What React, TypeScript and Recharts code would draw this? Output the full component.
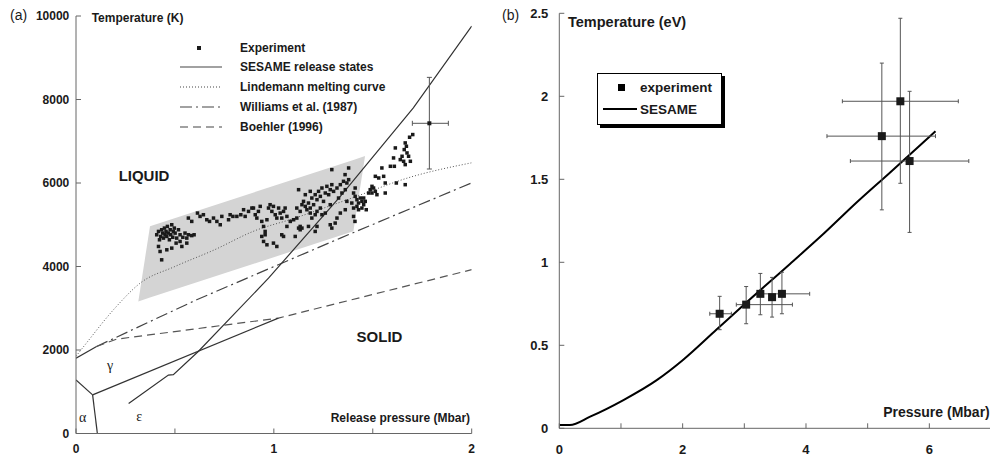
import React from 'react';
import {
  ComposedChart,
  Line,
  Area,
  Scatter,
  XAxis,
  YAxis,
  ErrorBar,
  ReferenceDot,
  Legend,
} from 'recharts';

// ---------- panel (a): iron phase diagram ----------
const aXTicks = [0, 0.5, 1, 1.5, 2];
const aYTicks = [0, 2000, 4000, 6000, 8000, 10000];

// SESAME release states
const sesameP = [0.266, 0.467, 0.492, 0.618, 0.973, 1.336, 1.705, 2.0];
const sesameT = [720, 1400, 1410, 1964, 3720, 5680, 7800, 9760];
const gammaEpsP = [0.084, 1.023];
const gammaEpsT = [924, 2764];
const alphaGammaP = [0, 0.084];
const alphaGammaT = [1284, 924];
const alphaEpsP = [0.084, 0.108];
const alphaEpsT = [924, 0];
const meltLowP = [0, 0.104];
const meltLowT = [1804, 2084];

// Lindemann melting curve
const lindemannP = [0, 0.05, 0.197, 0.324, 0.5, 0.7, 0.9, 1.1, 1.4, 1.69, 2.0];
const lindemannT = [1850, 2150, 3004, 3600, 4000, 4400, 4850, 5150, 5650, 6140, 6484];

// Williams et al. (1987)
const williamsP = [0.104, 0.61, 1.336, 2.0];
const williamsT = [2084, 3204, 4680, 6004];

// Boehler (1996)
const boehlerP = [0.104, 0.205, 1.023, 2.0];
const boehlerT = [2084, 2260, 2764, 3924];

// grey band
const shadeP = [0.315, 0.374, 1.402, 1.461];
const shadeLow = [3164, 3255, 4844, 6644];
const shadeHigh = [3164, 4964, 6553, 6644];

// experiment points [P (Mbar), T (K)]
const experimentA: [number, number][] = [
  [0.408, 4760], [0.417, 4840], [0.422, 4640], [0.428, 4720], [0.433, 4880], [0.438, 4800],
  [0.442, 4680], [0.447, 4920], [0.45, 4760], [0.455, 4840], [0.459, 4720], [0.462, 4960],
  [0.467, 4800], [0.472, 4640], [0.476, 4880], [0.479, 4760], [0.484, 5000], [0.489, 4700],
  [0.492, 4840], [0.497, 4920], [0.501, 4800], [0.506, 4560], [0.509, 4680], [0.518, 4880],
  [0.526, 4760], [0.535, 4480], [0.54, 4700], [0.551, 4800], [0.56, 4680], [0.568, 4760],
  [0.585, 4740], [0.597, 4760], [0.417, 4480], [0.425, 4360], [0.433, 4160], [0.459, 4400],
  [0.484, 4440], [0.526, 4600], [0.56, 4560],
  [0.568, 5160], [0.585, 5080], [0.614, 5280], [0.627, 5200], [0.644, 5240], [0.661, 5120],
  [0.675, 5080], [0.695, 5160], [0.712, 5080], [0.729, 5000], [0.737, 5200], [0.771, 5120],
  [0.779, 5240], [0.793, 5200], [0.813, 5200], [0.833, 5240], [0.847, 5360], [0.855, 5200],
  [0.872, 5320], [0.889, 5400],
  [0.897, 5400], [0.906, 5240], [0.914, 5160], [0.922, 5320], [0.931, 5440], [0.939, 5080],
  [0.948, 4960], [0.956, 4840], [0.965, 5120], [0.973, 5400], [0.981, 5480], [0.99, 5320],
  [0.998, 5440], [1.007, 5240], [1.015, 5160], [1.024, 5400], [1.032, 5280], [1.04, 5160],
  [1.049, 5320], [1.057, 5400], [1.066, 5200], [1.083, 5080], [1.1, 5120], [1.116, 5160],
  [1.125, 4920], [1.133, 4960], [1.142, 4920], [0.939, 4720], [0.948, 4600], [0.965, 4520],
  [0.956, 4760], [0.998, 4560], [1.015, 4480], [1.04, 4760], [1.049, 4720], [1.066, 4960],
  [1.108, 4720], [1.133, 4880], [1.175, 4960], [1.116, 5400], [1.133, 5320], [1.142, 5480],
  [1.15, 5560], [1.159, 5440], [1.167, 5360], [1.175, 5520], [1.184, 5400], [1.192, 5640],
  [1.201, 5480], [1.209, 5720], [1.218, 5600], [1.226, 5800], [1.235, 5680], [1.243, 5880],
  [1.251, 5560], [1.26, 5760], [1.268, 5920], [1.277, 5720], [1.285, 5840], [1.293, 5960],
  [1.302, 5800], [1.319, 5880], [1.327, 5640], [1.336, 5960], [1.344, 5760], [1.352, 6040],
  [1.361, 5840], [1.369, 6000], [1.369, 5560], [1.378, 6080], [1.293, 6320], [1.184, 5280],
  [1.192, 5160], [1.209, 5240], [1.218, 5320], [1.235, 5400], [1.243, 5240], [1.26, 5280],
  [1.285, 5480], [1.319, 5160], [1.336, 5280], [1.361, 5360], [1.285, 5000], [1.293, 4920],
  [1.31, 5040], [1.218, 4960], [1.209, 4840], [1.184, 5800], [1.125, 5840], [1.159, 5720],
  [1.403, 5760], [1.411, 5680], [1.42, 5600], [1.428, 5520], [1.437, 5640], [1.445, 5560],
  [1.454, 5640], [1.42, 5440], [1.428, 5360], [1.445, 5400], [1.454, 5480], [1.411, 5880],
  [1.394, 5520], [1.403, 5400], [1.462, 5560], [1.467, 5360], [1.487, 5840], [1.496, 5760],
  [1.504, 5880], [1.513, 5800], [1.521, 5720], [1.53, 6120], [1.513, 6160], [1.479, 5760],
  [1.496, 5920],
  [1.702, 7160], [1.686, 7096], [1.664, 6960], [1.67, 6880], [1.659, 6800], [1.673, 6720],
  [1.681, 6640], [1.648, 6640], [1.639, 6560], [1.656, 6520], [1.664, 6440], [1.69, 6520],
  [1.614, 6840], [1.605, 6600], [1.589, 6400], [1.609, 6400], [1.546, 6360], [1.555, 6160],
  [1.563, 6000], [1.619, 6000], [1.664, 5960], [1.563, 5760],
  [1.378, 6360], [1.36, 6200], [1.403, 5200], [1.41, 5080],
];

// single point with error bars
const errPointA = { x: 1.786, y: 7430, ex: [0.086, 0.096], ey: [1095, 1100] };

const legendALabels = [
  'Experiment',
  'SESAME release states',
  'Lindemann melting curve',
  'Williams et al. (1987)',
  'Boehler (1996)',
];

// ---------- panel (b): temperature vs pressure ----------
const bXTicks = [0, 1, 2, 3, 4, 5, 6];
const bYTicks = [0, 0.5, 1, 1.5, 2, 2.5];

const sesameBP = [0, 0.17, 0.5, 1.04, 1.58, 2.0, 2.55, 2.98, 3.74, 4.28, 4.82, 5.36, 6.1];
const sesameBT = [0.02, 0.02, 0.07, 0.17, 0.29, 0.41, 0.595, 0.74, 0.99, 1.17, 1.36, 1.54, 1.79];

const expBP = [2.6, 3.03, 3.26, 3.45, 3.61, 5.23, 5.53, 5.68];
const expBT = [0.69, 0.745, 0.81, 0.79, 0.81, 1.76, 1.97, 1.61];
const expBPErr = [[0.16, 0.19], [0.16, 0.75], [0, 0], [0, 0], [0.36, 0.45], [0.89, 0.87], [0.94, 0.94], [0.96, 0.96]];
const expBTErr = [[0.096, 0.105], [0.115, 0.109], [0.126, 0.123], [0.12, 0.119], [0.12, 0.13], [0.444, 0.44], [0.494, 0.5], [0.43, 0.42]];

const pairs = (xs: number[], ys: number[]) => xs.map((x, i) => ({ x, y: ys[i] }));

const sesameData = pairs(sesameP, sesameT);
const gammaEpsData = pairs(gammaEpsP, gammaEpsT);
const alphaGammaData = pairs(alphaGammaP, alphaGammaT);
const alphaEpsData = pairs(alphaEpsP, alphaEpsT);
const meltLowData = pairs(meltLowP, meltLowT);
const lindemannData = pairs(lindemannP, lindemannT);
const williamsData = pairs(williamsP, williamsT);
const boehlerData = pairs(boehlerP, boehlerT);
const shadeData = shadeP.map((x, i) => ({ x, y: [shadeLow[i], shadeHigh[i]] }));
const expAData = experimentA.map(([x, y]) => ({ x, y }));
const sesameBData = pairs(sesameBP, sesameBT);
const expBData = expBP.map((x, i) => ({ x, y: expBT[i], ex: expBPErr[i], ey: expBTErr[i] }));

const FONT = '"Liberation Sans", Arial, sans-serif';
const AXIS = '#666';
const INK = '#1a1a1a';

const smallSquare = (size: number) => (props: any) => {
  const { cx, cy } = props;
  if (cx == null || cy == null) return <g />;
  return <rect x={cx - size / 2} y={cy - size / 2} width={size} height={size} fill={INK} />;
};

const textLabel = (value: string, position: string, fontSize: number, extra: any = {}) => ({
  value,
  position,
  offset: 0,
  fontSize,
  fontWeight: 700,
  fill: INK,
  ...extra,
});

const LegendA = () => {
  const rowY = [10, 29, 49, 69, 89];
  const dashes = [null, undefined, '1 2', '12 4 2 4', '8 5'];
  return (
    <svg width={240} height={100} style={{ overflow: 'visible' }}>
      {legendALabels.map((label, i) => (
        <g key={label}>
          {i === 0 ? (
            <rect x={22} y={rowY[i] - 2} width={4} height={4} fill={INK} />
          ) : (
            <line
              x1={5}
              x2={47}
              y1={rowY[i]}
              y2={rowY[i]}
              stroke="#444"
              strokeWidth={1.2}
              strokeDasharray={dashes[i] || undefined}
            />
          )}
          <text x={65} y={rowY[i] + 4} fontSize={12} fontWeight={700} fill={INK} fontFamily={FONT}>
            {label}
          </text>
        </g>
      ))}
    </svg>
  );
};

const LegendB = () => (
  <div
    style={{
      width: 125,
      height: 52,
      boxSizing: 'border-box',
      border: '1.5px solid #000',
      boxShadow: '3px 3px 0 #000',
      background: '#fff',
    }}
  >
    <svg width={122} height={49}>
      <rect x={20} y={10} width={7} height={7} fill="#000" />
      <text x={42} y={18} fontSize={13.5} fontWeight={700} fill={INK} fontFamily={FONT}>
        experiment
      </text>
      <line x1={5} x2={39} y1={35} y2={35} stroke="#000" strokeWidth={2} />
      <text x={42} y={40} fontSize={13.5} fontWeight={700} fill={INK} fontFamily={FONT}>
        SESAME
      </text>
    </svg>
  </div>
);

const PanelA = () => (
  <ComposedChart width={490} height={456} margin={{ top: 16, right: 18.3, bottom: 0, left: 0 }}>
    <XAxis
      type="number"
      dataKey="x"
      domain={[0, 2]}
      ticks={aXTicks}
      tickFormatter={(v: number) => (Number.isInteger(v) ? String(v) : '')}
      tickSize={-5}
      tickMargin={15.5}
      height={22.5}
      stroke={AXIS}
      tick={{ fill: INK, fontSize: 12, fontWeight: 700 }}
      allowDataOverflow
    />
    <YAxis
      type="number"
      domain={[0, 10000]}
      ticks={aYTicks}
      width={76}
      tickSize={-5}
      tickMargin={11.7}
      stroke={AXIS}
      tick={{ fill: INK, fontSize: 12, fontWeight: 700 }}
      allowDataOverflow
    />
    <Area
      data={shadeData}
      dataKey="y"
      type="linear"
      stroke="none"
      fill="#d4d4d4"
      fillOpacity={1}
      isAnimationActive={false}
    />
    <Line data={lindemannData} dataKey="y" type="monotone" stroke="#555" strokeWidth={1} strokeDasharray="1 2" dot={false} isAnimationActive={false} />
    <Line data={williamsData} dataKey="y" type="linear" stroke="#444" strokeWidth={1.2} strokeDasharray="12 4 2 4" dot={false} isAnimationActive={false} />
    <Line data={boehlerData} dataKey="y" type="linear" stroke="#555" strokeWidth={1.2} strokeDasharray="8 5" dot={false} isAnimationActive={false} />
    <Line data={sesameData} dataKey="y" type="linear" stroke="#333" strokeWidth={1.2} dot={false} isAnimationActive={false} />
    <Line data={gammaEpsData} dataKey="y" type="linear" stroke="#333" strokeWidth={1.2} dot={false} isAnimationActive={false} />
    <Line data={alphaGammaData} dataKey="y" type="linear" stroke="#333" strokeWidth={1.2} dot={false} isAnimationActive={false} />
    <Line data={alphaEpsData} dataKey="y" type="linear" stroke="#333" strokeWidth={1.2} dot={false} isAnimationActive={false} />
    <Line data={meltLowData} dataKey="y" type="linear" stroke="#333" strokeWidth={1.2} dot={false} isAnimationActive={false} />
    <Scatter data={expAData} dataKey="y" shape={smallSquare(3.5)} isAnimationActive={false} />
    <Scatter data={[errPointA]} dataKey="y" shape={smallSquare(4)} isAnimationActive={false}>
      <ErrorBar dataKey="ex" direction="x" width={2.5} stroke="#555" strokeWidth={1} />
      <ErrorBar dataKey="ey" direction="y" width={2.5} stroke="#555" strokeWidth={1} />
    </Scatter>
    <ReferenceDot x={0.079} y={9951} r={0} stroke="none" label={textLabel('Temperature (K)', 'right', 12)} />
    <ReferenceDot x={0.344} y={6167} r={0} stroke="none" label={textLabel('LIQUID', 'center', 15)} />
    <ReferenceDot x={1.534} y={2323} r={0} stroke="none" label={textLabel('SOLID', 'center', 15)} />
    <ReferenceDot x={0.172} y={1640} r={0} stroke="none" label={textLabel('γ', 'center', 14, { fontWeight: 400, fontFamily: '"Liberation Serif", serif' })} />
    <ReferenceDot x={0.034} y={395} r={0} stroke="none" label={textLabel('α', 'center', 14, { fontWeight: 400, fontFamily: '"Liberation Serif", serif' })} />
    <ReferenceDot x={0.32} y={420} r={0} stroke="none" label={textLabel('ε', 'center', 14, { fontWeight: 400, fontFamily: '"Liberation Serif", serif' })} />
    <ReferenceDot x={1.992} y={383} r={0} stroke="none" label={textLabel('Release pressure (Mbar)', 'left', 12)} />
    <Legend
      content={<LegendA />}
      layout="horizontal"
      verticalAlign="middle"
      align="center"
      wrapperStyle={{ left: 175, top: 38, width: 240, height: 100 }}
    />
  </ComposedChart>
);

const PanelB = () => (
  <ComposedChart width={502} height={456} margin={{ top: 13.3, right: 1, bottom: 0, left: 0 }}>
    <XAxis
      type="number"
      dataKey="x"
      domain={[0, 7]}
      ticks={bXTicks}
      tickFormatter={(v: number) => (v % 2 === 0 ? String(v) : '')}
      tickSize={-5}
      tickMargin={21}
      height={27.7}
      stroke={AXIS}
      tick={{ fill: INK, fontSize: 13, fontWeight: 700 }}
      allowDataOverflow
    />
    <YAxis
      type="number"
      domain={[0, 2.5]}
      ticks={bYTicks}
      width={69.3}
      tickSize={-5}
      tickMargin={16}
      stroke={AXIS}
      tick={{ fill: INK, fontSize: 13, fontWeight: 700 }}
      allowDataOverflow
    />
    <Line data={sesameBData} dataKey="y" type="monotone" stroke="#000" strokeWidth={2} dot={false} isAnimationActive={false} />
    <Scatter data={expBData} dataKey="y" shape={smallSquare(8)} isAnimationActive={false}>
      <ErrorBar dataKey="ex" direction="x" width={2} stroke="#555" strokeWidth={1} />
      <ErrorBar dataKey="ey" direction="y" width={2} stroke="#555" strokeWidth={1} />
    </Scatter>
    <ReferenceDot x={0.141} y={2.45} r={0} stroke="none" label={textLabel('Temperature (eV)', 'right', 14.5)} />
    <ReferenceDot x={6.98} y={0.1} r={0} stroke="none" label={textLabel('Pressure (Mbar)', 'left', 14)} />
    <Legend
      content={<LegendB />}
      layout="horizontal"
      verticalAlign="middle"
      align="center"
      wrapperStyle={{ left: 107, top: 73, width: 130, height: 56 }}
    />
  </ComposedChart>
);

export default function App() {
  return (
    <div
      style={{
        position: 'absolute',
        left: 0,
        top: 0,
        width: 990,
        height: 456,
        overflow: 'hidden',
        background: '#fff',
        fontFamily: FONT,
      }}
    >
      <div style={{ position: 'absolute', left: 0, top: 0 }}>
        <PanelA />
      </div>
      <div style={{ position: 'absolute', left: 490, top: 0 }}>
        <PanelB />
      </div>
      <span style={{ position: 'absolute', left: 10, top: 7, fontSize: 14, color: INK }}>(a)</span>
      <span style={{ position: 'absolute', left: 502, top: 7, fontSize: 14, color: INK }}>(b)</span>
    </div>
  );
}
